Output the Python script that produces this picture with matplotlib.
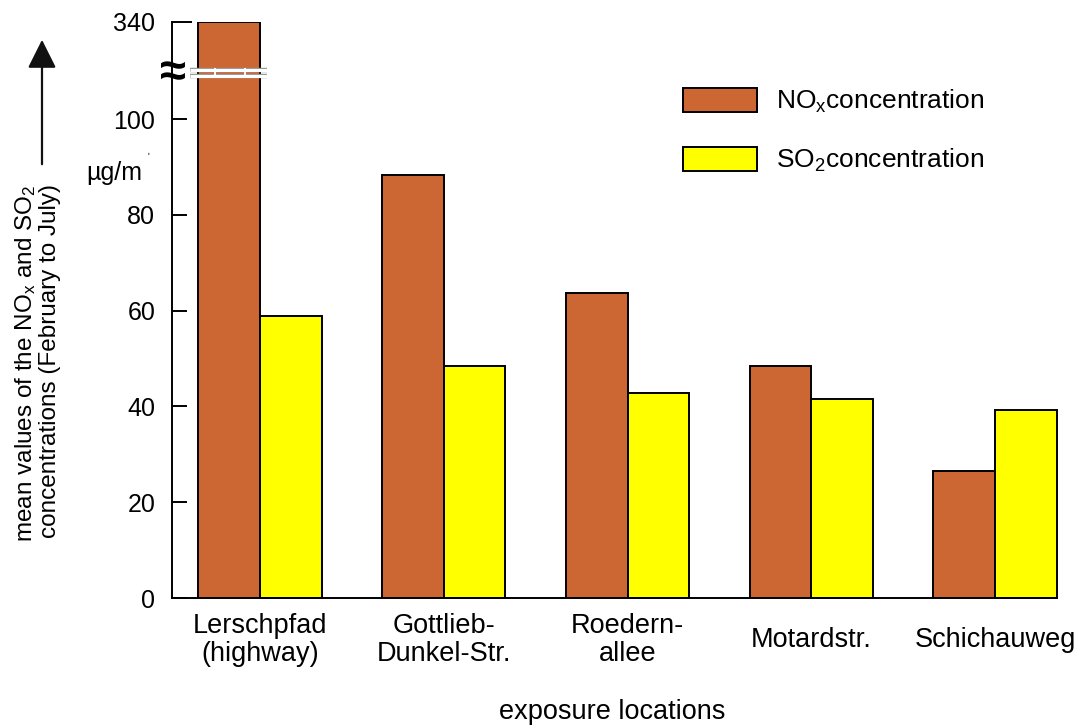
import numpy as np
import matplotlib
matplotlib.use("Agg")
from matplotlib import pyplot as plt

locations = ["Lerschpfad\n(highway)", "Gottlieb-\nDunkel-Str.", "Roedern-\nallee",
             "Motardstr.", "Schichauweg"]
nox = [340, 88.3, 63.7, 48.4, 26.5]
so2 = [58.9, 48.4, 42.8, 41.5, 39.2]
y_ticks = [0, 20, 40, 60, 80, 100]

NOX_COLOR = "#cc6633"
SO2_COLOR = "#ffff00"
K = 0.0844  # compression of the axis above 100


def forward(v):
    v = np.asarray(v, dtype=float)
    return np.where(v <= 100, v, 100 + (v - 100) * K)


def inverse(u):
    u = np.asarray(u, dtype=float)
    return np.where(u <= 100, u, 100 + (u - 100) / K)


plt.rcParams["font.family"] = ["Liberation Sans", "DejaVu Sans"]
plt.rcParams["mathtext.fontset"] = "custom"
plt.rcParams["mathtext.rm"] = "Liberation Sans"

fig = plt.figure(figsize=(10.79, 7.26), dpi=100)
ax = fig.add_axes([0.1594, 0.1763, 0.8198, 0.7934])

x = np.arange(len(locations))
w = 0.335
ax.bar(x - w / 2, nox, w, color=NOX_COLOR, edgecolor="black", linewidth=1.4,
       label=r"$\mathregular{NO_x}$concentration", zorder=2)
ax.bar(x + w / 2, so2, w, color=SO2_COLOR, edgecolor="black", linewidth=1.4,
       label=r"$\mathregular{SO_2}$concentration", zorder=2, clip_on=False)

ax.set_yscale("function", functions=(forward, inverse))
ax.set_ylim(0, 340)
ax.set_xlim(-0.479, 4.335)

ax.set_yticks(y_ticks, labels=[str(t) for t in y_ticks])
ax.set_yticks([340], labels=["340"], minor=True)
ax.tick_params(axis="y", which="major", direction="in", length=11, width=1.4,
               labelsize=18, pad=12)
ax.tick_params(axis="y", which="minor", direction="in", length=14.5, width=1.4,
               labelsize=18, pad=12)

ax.set_xticks(x, labels=locations)
ax.tick_params(axis="x", length=0, labelsize=19.5, pad=30)
for lab in ax.get_xticklabels():
    lab.set_verticalalignment("center")
    lab.set_linespacing(1.1)

for side in ["top", "right"]:
    ax.spines[side].set_visible(False)
for side in ["left", "bottom"]:
    ax.spines[side].set_linewidth(1.4)

# axis break on the first bar
trans = ax.get_xaxis_transform()
for yb in [0.9167, 0.906]:
    ax.plot([-0.381, 0.038], [yb, yb], color="#999999", lw=3.2,
            transform=trans, zorder=5, clip_on=False, solid_capstyle="butt")
    ax.plot([-0.381, 0.038], [yb, yb], color="white", lw=2.2,
            transform=trans, zorder=6, clip_on=False, solid_capstyle="butt")
for xb in [-0.245, -0.082]:
    ax.plot([xb, xb], [0.904, 0.919], color="white", lw=1.4,
            transform=trans, zorder=7, clip_on=False)
ax.text(0.001, 0.909, "≈", transform=ax.transAxes, ha="center", va="center",
        fontsize=34, fontweight="bold", zorder=8, clip_on=False)

# unit
fig.text(86 / 1079, 1 - 173 / 726, "µg/m", fontsize=18, ha="left", va="center")
fig.text(148 / 1079, 1 - 157 / 726, "ʹ", fontsize=7, ha="left", va="center")

# y label with arrow
fig.text(26 / 1079, 1 - 363 / 726,
         r"mean values of the NO$\mathregular{_x}$ and SO$\mathregular{_2}$",
         rotation=90, fontsize=17.5, ha="center", va="center")
fig.text(50 / 1079, 1 - 361 / 726, "concentrations (February to July)",
         rotation=90, fontsize=17.5, ha="center", va="center")
fig.add_artist(matplotlib.patches.FancyArrowPatch(
    (42 / 1079, 1 - 167 / 726), (42 / 1079, 1 - 37 / 726),
    transform=fig.transFigure, arrowstyle="-|>,head_length=8,head_width=4",
    color="#111111", lw=1.6, mutation_scale=2.2))

fig.text(612 / 1079, 1 - 712 / 726, "exposure locations", fontsize=19.5,
         ha="center", va="center")

ax.legend(loc="upper left", bbox_to_anchor=(0.578, 0.885), frameon=False,
          fontsize=19, handlelength=2.8, handleheight=1.0, handletextpad=0.7,
          labelspacing=1.2, borderpad=0, borderaxespad=0)

fig.savefig("out.png", dpi=100)
